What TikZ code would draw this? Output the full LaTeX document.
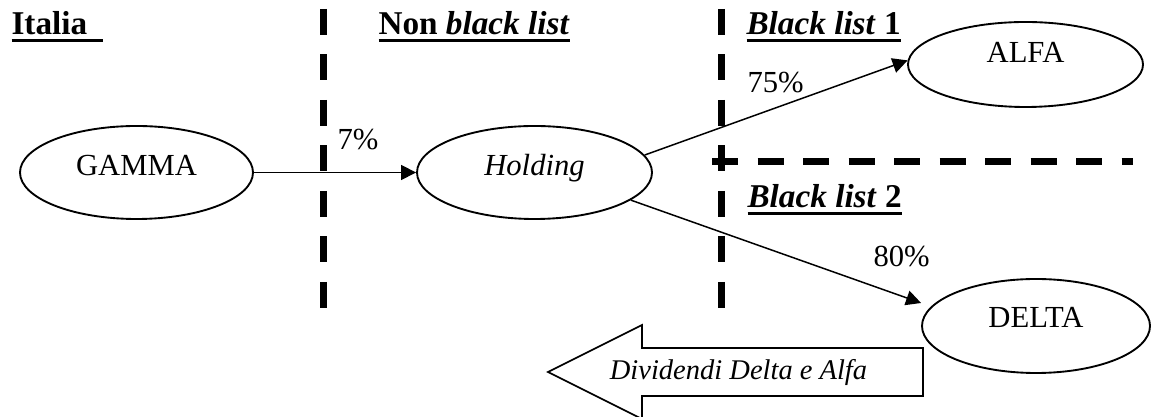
\documentclass[tikz,border=0pt]{standalone}
\usepackage{fontspec}
\setmainfont{Liberation Serif}
\usetikzlibrary{arrows.meta,calc,shapes.geometric}
\newcommand\ulbox[2][0pt]{\setbox0\hbox{#2\hspace*{#1}}\rlap{\rule[-3pt]{\wd0}{1.4pt}}\box0}
\begin{document}
\begin{tikzpicture}[x=0.4pt,y=-0.4pt,
 body/.style={font=\fontsize{12.25}{14}\selectfont},
 head/.style={font=\fontsize{13.3}{16}\selectfont\bfseries, inner sep=0pt, anchor=base west},
 lbl/.style={body, inner sep=0pt, anchor=base west},
 ent/.style={ellipse, draw, line width=0.75pt, inner sep=0pt, body, text height=8pt, text depth=5.2pt},
 link/.style={line width=0.6pt, -{Triangle[length=6pt,width=6pt]}},
 divider/.style={line width=2.8pt, dash pattern=on 10.4pt off 7.8pt}]
\useasboundingbox (0,0) rectangle (1152,417);
% dividers
\draw[divider] (323.5,9) -- (323.5,308);
\draw[divider] (721,9) -- (721,308);
\draw[divider] (712,161.5) -- (1133,161.5);
% headings
\node[head] (hit) at (11,35) {\ulbox[6.5pt]{Italia}};
\node[head] (hnb) at (378,35) {\ulbox{Non \textit{black list}}};
\node[head] (hb1) at (746,35) {\ulbox{\textit{Black list} 1}};
\node[head] (hb2) at (747,208) {\ulbox{\textit{Black list} 2}};
% entities
\node[ent, minimum width=93.2pt, minimum height=37.2pt] (gamma) at (136.5,172.5) {GAMMA};
\node[ent, minimum width=94pt, minimum height=37.2pt] (holding) at (534.5,172.5) {\textit{Holding}};
\node[ent, minimum width=94pt, minimum height=34pt, text height=6pt, text depth=7.2pt] (alfa) at (1025.5,64.5) {ALFA};
\node[ent, minimum width=91.2pt, minimum height=37.6pt, text height=8pt, text depth=6.4pt] (delta) at (1036,326) {DELTA};
% connectors
\draw[link] (gamma) -- (holding);
\draw[link] (holding.9.5) -- (alfa.178);
\coordinate (dtip) at ($(delta.west)+(0,-23)$);
\draw[link] (holding.-16) -- (dtip);
% percentages
\node[lbl] (p7) at (337,150) {7\%};
\node[lbl] (p75) at (747,93) {75\%};
\node[lbl] (p80) at (873,267) {80\%};
% dividend block arrow
\draw[line width=0.7pt, fill=white] (923,348) -- (642,348) -- (642,325) -- (548,372) -- (642,419) -- (642,396) -- (923,396) -- cycle;
\node[font=\fontsize{11.4}{13}\selectfont\itshape, inner sep=0pt, anchor=base] (div) at (738.5,380) {Dividendi Delta e Alfa};
\end{tikzpicture}
\end{document}
